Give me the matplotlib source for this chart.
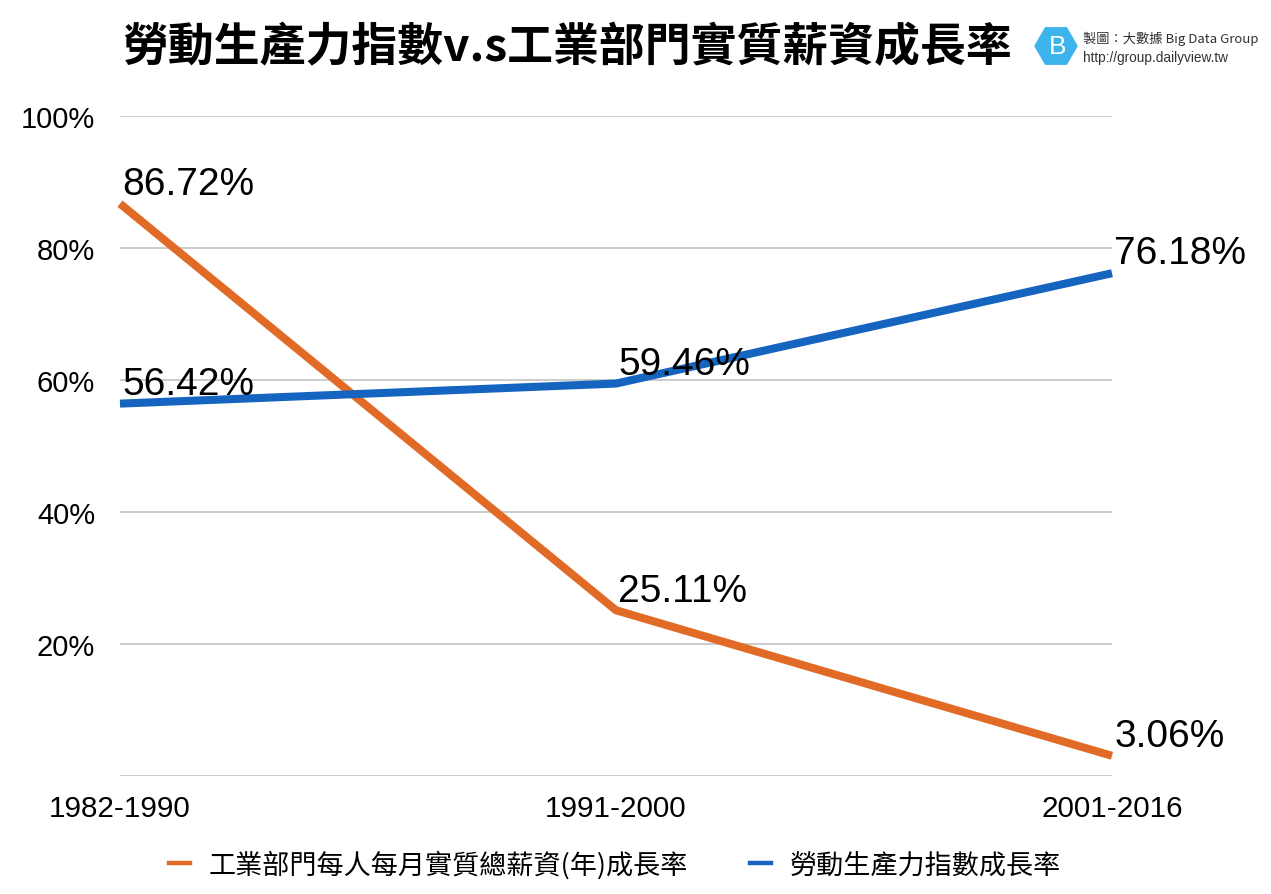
import matplotlib
matplotlib.use("Agg")
import matplotlib.pyplot as plt
from matplotlib.patches import RegularPolygon
from matplotlib.lines import Line2D
import numpy as np

plt.rcParams['font.family'] = ['Liberation Sans', 'Noto Sans CJK TC', 'DejaVu Sans']

periods = ["1982-1990", "1991-2000", "2001-2016"]
wage_growth = [86.72, 25.11, 3.06]
productivity_growth = [56.42, 59.46, 76.18]
wage_label = "工業部門每人每月實質總薪資(年)成長率"
prod_label = "勞動生產力指數成長率"
title = "勞動生產力指數v.s工業部門實質薪資成長率"
yticks = [0, 20, 40, 60, 80, 100]
ytick_labels = ["", "20%", "40%", "60%", "80%", "100%"]

orange = "#E06A26"
blue = "#1565C0"

fig = plt.figure(figsize=(12.71, 8.95), dpi=100)
ax = fig.add_axes([120/1271, 118/895, 992/1271, 660/895])

x = np.arange(len(periods))
ax.plot(x, wage_growth, color=orange, lw=5.8, clip_on=False, solid_capstyle='butt', zorder=3)
ax.plot(x, productivity_growth, color=blue, lw=5.8, clip_on=False, solid_capstyle='butt', zorder=3)

for xi, v in zip(x, wage_growth):
    ax.annotate(f"{v:.2f}%", (xi, v), xytext=(1.5, 7), textcoords='offset points',
                ha='left', va='baseline', fontsize=28, color='black', zorder=4)
for xi, v in zip(x, productivity_growth):
    ax.annotate(f"{v:.2f}%", (xi, v), xytext=(1.5, 7), textcoords='offset points',
                ha='left', va='baseline', fontsize=28, color='black', zorder=4)

ax.set_xlim(0, 2)
ax.set_ylim(0, 100)
ax.set_xticks(x)
ax.set_xticklabels(periods, fontsize=21.3)
ax.set_yticks(yticks)
ax.set_yticklabels(ytick_labels, fontsize=21)
ax.tick_params(axis='both', length=0)
ax.tick_params(axis='y', pad=18)
ax.tick_params(axis='x', pad=13)
ax.grid(axis='y', color='#C8C8C8', lw=1.3)
ax.set_axisbelow(True)
for s in ax.spines.values():
    s.set_visible(False)

fig.text(122/1271, 1 - 48/895, title, fontsize=33, fontweight='bold',
         family=['Noto Sans CJK TC', 'Liberation Sans'], ha='left', va='center')

# logo
lax = fig.add_axes([1033/1271, 1 - 70/895, 46/1271, 46/895])
lax.set_xlim(-1, 1)
lax.set_ylim(-1, 1)
lax.set_aspect('equal')
lax.axis('off')
lax.add_patch(RegularPolygon((0, 0), numVertices=6, radius=0.95, orientation=np.pi/6,
                             facecolor='#3DB5EC', edgecolor='none'))
lax.text(0.05, 0, "B", color='white', fontsize=19, ha='center', va='center',
         family=['Liberation Sans'])
fig.text(1083/1271, 1 - 39/895, "製圖：大數據 Big Data Group", fontsize=9.5,
         family=['Noto Sans CJK TC', 'Liberation Sans'], ha='left', va='center', color='#333333')
fig.text(1083/1271, 1 - 58/895, "http://group.dailyview.tw", fontsize=9.8,
         family=['Liberation Sans'], ha='left', va='center', color='#333333')

handles = [Line2D([], [], color=orange, lw=3.2), Line2D([], [], color=blue, lw=3.2)]
leg = fig.legend(handles, [wage_label, prod_label], loc='center', bbox_to_anchor=(615/1271, 1 - 865/895),
                 ncol=2, frameon=False, handlelength=0.75, columnspacing=2.3, handletextpad=0.7,
                 prop={'family': ['Noto Sans CJK TC', 'Liberation Sans'], 'size': 19.5})

fig.savefig("out.png", dpi=100)
